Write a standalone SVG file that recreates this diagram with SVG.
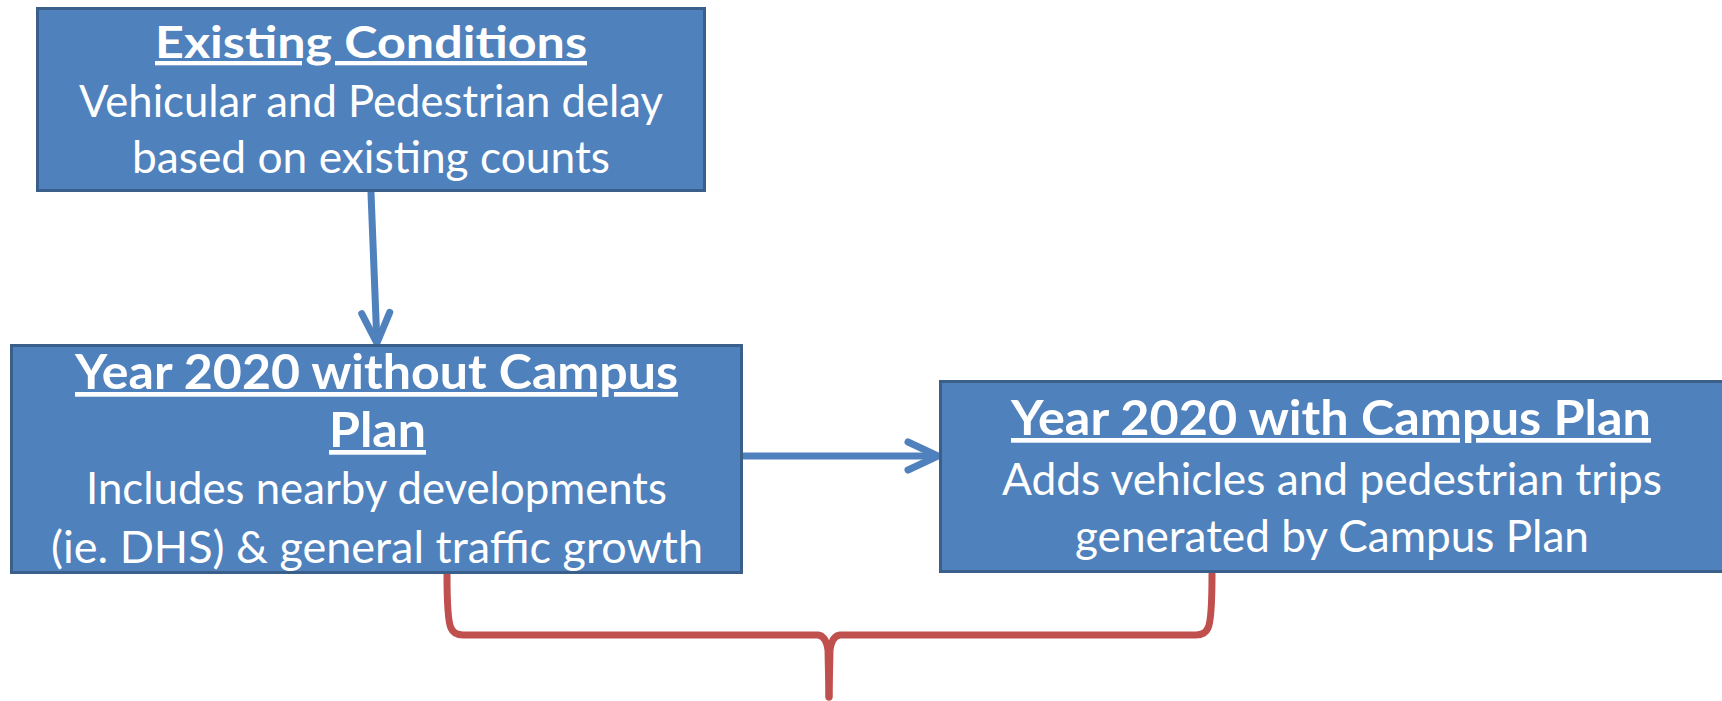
<svg xmlns="http://www.w3.org/2000/svg" width="1722" height="701" viewBox="0 0 1722 701">
  <style>
    .box { fill: #4F81BD; stroke: #3A5F8B; stroke-width: 3; }
    .t { font-family: Lato, "Open Sans", sans-serif; fill: #FFFFFF; text-anchor: middle; }
    .title { font-weight: bold; font-size: 47px; text-decoration: underline; }
    .title1 { font-weight: bold; font-size: 43px; text-decoration: underline; }
    .body { font-size: 45px; }
    .arrow { fill: none; stroke: #4F81BD; stroke-width: 7; stroke-linecap: round; stroke-linejoin: round; }
    .brace { fill: none; stroke: #C0504D; stroke-width: 7; stroke-linecap: round; stroke-linejoin: round; }
  </style>
  <defs>
    <marker id="chev" markerUnits="userSpaceOnUse" markerWidth="40" markerHeight="40" refX="0" refY="0" orient="auto" overflow="visible">
      <path d="M-27,-14 L3,0 L-27,14" fill="none" stroke="#4F81BD" stroke-width="7" stroke-linecap="round" stroke-linejoin="miter"/>
    </marker>
  </defs>

  <g id="connectors">
    <path class="arrow" d="M371,193 L376.8,340" marker-end="url(#chev)"/>
    <path class="arrow" d="M743,456 L935,456" marker-end="url(#chev)"/>
    <path class="brace" d="M447,574 C447,600 448,622 451,628 Q454,635 463,635 L818,635 Q826,636 828,650 L829,697"/>
    <path class="brace" d="M1212,574 C1212,600 1211,622 1208,628 Q1205,635 1196,635 L840,635 Q832,636 830,650 L829,697"/>
  </g>

  <g id="node-existing">
    <rect class="box" x="37.5" y="8.5" width="667" height="182"/>
    <text class="t title1" x="371" y="58" textLength="432" lengthAdjust="spacingAndGlyphs">Existing Conditions</text>
    <text class="t body" x="371" y="117" textLength="584" lengthAdjust="spacingAndGlyphs">Vehicular and Pedestrian delay</text>
    <text class="t body" x="371" y="173" textLength="478" lengthAdjust="spacingAndGlyphs">based on existing counts</text>
  </g>

  <g id="node-without">
    <rect class="box" x="11.5" y="345.5" width="730" height="227"/>
    <text class="t title" x="376.5" y="389" textLength="603" lengthAdjust="spacingAndGlyphs">Year 2020 without Campus</text>
    <text class="t title" x="377.5" y="447" textLength="97" lengthAdjust="spacingAndGlyphs">Plan</text>
    <text class="t body" x="376.5" y="504" textLength="581" lengthAdjust="spacingAndGlyphs">Includes nearby developments</text>
    <text class="t body" x="377" y="563" textLength="652" lengthAdjust="spacingAndGlyphs">(ie. DHS) &amp; general traffic growth</text>
  </g>

  <g id="node-with">
    <rect class="box" x="940.5" y="381.5" width="800" height="190"/>
    <text class="t title" x="1331" y="435" textLength="640" lengthAdjust="spacingAndGlyphs">Year 2020 with Campus Plan</text>
    <text class="t body" x="1332" y="495" textLength="660" lengthAdjust="spacingAndGlyphs">Adds vehicles and pedestrian trips</text>
    <text class="t body" x="1332" y="552" textLength="514" lengthAdjust="spacingAndGlyphs">generated by Campus Plan</text>
  </g>
</svg>
